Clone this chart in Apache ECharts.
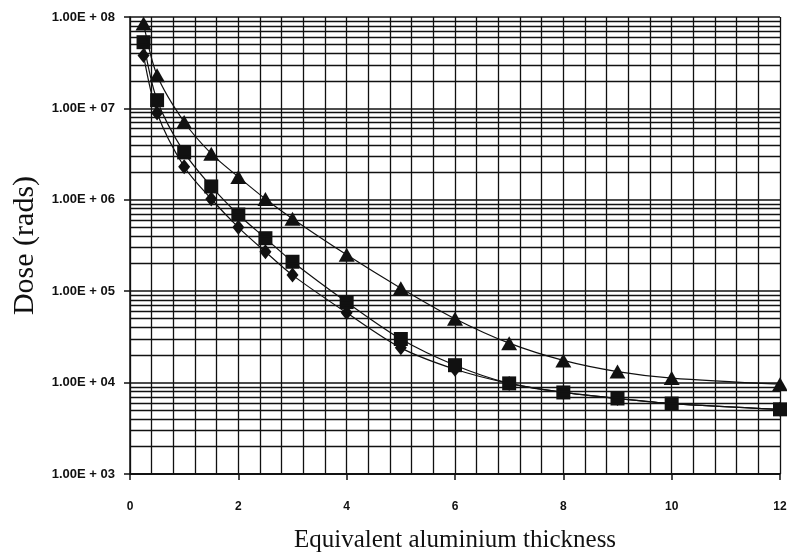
<!DOCTYPE html>
<html>
<head>
<meta charset="utf-8">
<script src="https://cdn.jsdelivr.net/npm/echarts@6/dist/echarts.min.js"></script>
<style>
  html, body { margin: 0; padding: 0; background: #fff; }
  #chart { width: 787px; height: 559px; }
</style>
</head>
<body>
<div id="chart"></div>
<script>
// Equivalent aluminium thickness
const thickness = [0.25, 0.5, 1, 1.5, 2, 2.5, 3, 4, 5, 6, 7, 8, 9, 10, 12];

// Dose (rads) for each shielding curve
const doseTriangle = [8.5e7, 2.3e7, 7.1e6, 3.2e6, 1.78e6, 1.02e6, 6.2e5, 2.5e5, 1.08e5, 5.0e4, 2.7e4, 1.75e4, 1.32e4, 1.12e4, 9.6e3];
const doseSquare   = [5.3e7, 1.23e7, 3.3e6, 1.4e6, 6.9e5, 3.8e5, 2.1e5, 7.6e4, 3.0e4, 1.55e4, 9.8e3, 7.8e3, 6.7e3, 5.9e3, 5.1e3];
const doseDiamond  = [3.8e7, 8.9e6, 2.3e6, 1.02e6, 5.0e5, 2.7e5, 1.5e5, 5.8e4, 2.4e4, 1.4e4, 9.8e3, 7.8e3, 6.7e3, 5.9e3, 5.1e3];

// Log-paper rules at 2..9 within each decade
const decades = [1e3, 1e4, 1e5, 1e6, 1e7];
const minorRules = [];
decades.forEach(d => { for (let k = 2; k <= 9; k++) minorRules.push(d * k); });

const INK = '#111';

function pairs(ys) { return thickness.map((x, i) => [x, ys[i]]); }

function expLabel(v) {
  const e = Math.round(Math.log10(v));
  return '1.00E + ' + (e < 10 ? '0' + e : '' + e);
}

const chart = echarts.init(document.getElementById('chart'), null, { renderer: 'canvas' });

chart.setOption({
  animation: false,
  backgroundColor: '#fff',
  grid: { left: 130, right: 7, top: 17, bottom: 85, containLabel: false, outerBoundsMode: 'none' },
  xAxis: {
    type: 'value',
    min: 0, max: 12, interval: 2,
    name: 'Equivalent aluminium thickness',
    nameLocation: 'middle',
    nameGap: 54,
    nameTextStyle: { fontFamily: 'Liberation Serif, Times New Roman, serif', fontSize: 25, color: INK },
    axisLine: { show: true, lineStyle: { color: INK, width: 1.5 } },
    axisTick: { show: true, inside: false, length: 6, lineStyle: { color: INK, width: 1.5 } },
    axisLabel: { margin: 27, fontFamily: 'Liberation Sans, Arial, sans-serif', fontWeight: 'bold', fontSize: 12, color: INK },
    splitLine: { show: true, lineStyle: { color: INK, width: 1.3 } },
    minorTick: { show: false, splitNumber: 5 },
    minorSplitLine: { show: true, lineStyle: { color: INK, width: 1.3 } }
  },
  yAxis: {
    type: 'log',
    logBase: 10,
    min: 1e3, max: 1e8,
    name: 'Dose (rads)',
    nameLocation: 'middle',
    nameGap: 90,
    nameTextStyle: { fontFamily: 'Liberation Serif, Times New Roman, serif', fontSize: 30, color: INK },
    axisLine: { show: true, lineStyle: { color: INK, width: 1.5 } },
    axisTick: { show: true, inside: false, length: 6, lineStyle: { color: INK, width: 1.5 } },
    axisLabel: { margin: 15, fontFamily: 'Liberation Sans, Arial, sans-serif', fontWeight: 'bold', fontSize: 13, color: INK, formatter: expLabel },
    splitLine: { show: true, lineStyle: { color: INK, width: 1.5 } }
  },
  series: [
    {
      type: 'line',
      data: pairs(doseDiamond),
      smooth: 0.3,
      symbol: 'diamond',
      symbolSize: [12, 15],
      lineStyle: { color: INK, width: 1.2 },
      itemStyle: { color: INK },
      z: 3,
      markLine: {
        silent: true,
        symbol: ['none', 'none'],
        label: { show: false },
        lineStyle: { color: INK, width: 1.3, type: 'solid' },
        data: minorRules.map(v => ({ yAxis: v }))
      }
    },
    {
      type: 'line',
      data: pairs(doseSquare),
      smooth: 0.3,
      symbol: 'rect',
      symbolSize: 14,
      lineStyle: { color: INK, width: 1.2 },
      itemStyle: { color: INK },
      z: 4
    },
    {
      type: 'line',
      data: pairs(doseTriangle),
      smooth: 0.3,
      symbol: 'triangle',
      symbolSize: [16, 14],
      lineStyle: { color: INK, width: 1.2 },
      itemStyle: { color: INK },
      z: 5
    }
  ]
});
</script>
</body>
</html>
